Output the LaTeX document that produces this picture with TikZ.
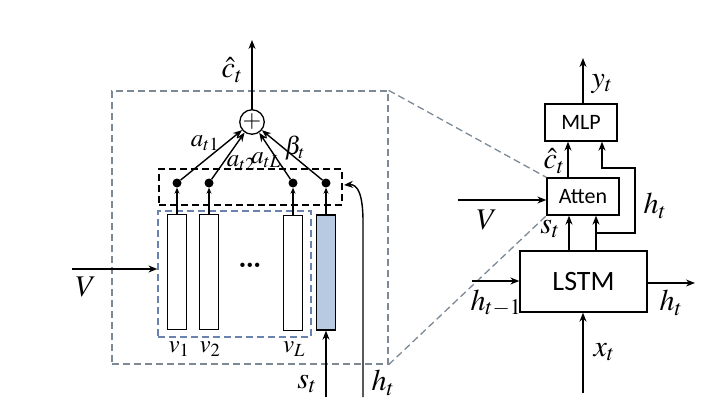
\documentclass[tikz,border=0pt]{standalone}
\usepackage{mathptmx}
\usepackage{fontspec}
\setsansfont{Carlito}
\usetikzlibrary{arrows.meta}
\definecolor{greydash}{RGB}{125,138,150}
\definecolor{bluedash}{RGB}{105,130,175}
\definecolor{barblue}{RGB}{183,202,226}
\tikzset{
  ln/.style={line width=1.4pt},
  arr/.style={ln,-{Stealth[length=9pt,width=7pt]}},
  sarr/.style={line width=1.1pt,-{Stealth[length=6pt,width=5pt]}},
  bar/.style={draw,line width=1.3pt,minimum width=19pt,minimum height=115pt,inner sep=0pt},
  dot/.style={circle,fill=black,minimum size=9pt,inner sep=0pt},
  blk/.style={draw,line width=1.3pt,inner sep=0pt,font=\sffamily},
  lbl/.style={inner sep=0pt,font=\fontsize{30}{32}\selectfont},
  slbl/.style={inner sep=0pt,font=\fontsize{25}{27}\selectfont},
  dbox/.style={line width=1.3pt,dash pattern=on 7pt off 4pt,inner sep=0pt},
}
\begin{document}
\begin{tikzpicture}[x=1pt,y=-1pt]
\useasboundingbox (0,0) rectangle (720,420);
% left part boxes
\node[dbox,draw=greydash,minimum width=276pt,minimum height=273pt] (outer) at (250,227.5) {};
\node[dbox,draw=bluedash,line width=1.2pt,minimum width=153pt,minimum height=126pt] (inner) at (234.5,274) {};
\node[dbox,draw=black,minimum width=183pt,minimum height=36pt] (sel) at (250.5,187) {};
% bars
\node[bar,fill=white] (b1) at (177,272) {};
\node[bar,fill=white] (b2) at (209,272) {};
\node[bar,fill=white] (b3) at (293,273) {};
\node[bar,fill=barblue] (b4) at (326,272.5) {};
\node[font=\bfseries\fontsize{30}{30}\selectfont] (ell) at (250,265) {\dots};
% dots
\node[dot] (d1) at (177,183) {};
\node[dot] (d2) at (209,183) {};
\node[dot] (d3) at (293,183) {};
\node[dot] (d4) at (326,183) {};
\foreach \i in {1,2,3,4} {\draw[sarr] (b\i.north) -- (d\i.south);}
% plus
\node[circle,draw,line width=1.3pt,minimum size=24pt,inner sep=0pt,font=\fontsize{24}{24}\selectfont] (plus) at (252,122) {$+$};
\foreach \i in {1,2,3,4} {\draw[arr] (d\i) -- (plus);}
\coordinate (ctop) at (252,40);
\draw[arr] (plus.north) -- (ctop);
% labels left
\node[lbl] (lc) at (232,70) {$\hat{c}_t$};
\node[slbl] (la1) at (205,143) {$a_{t1}$};
\node[slbl] (la2) at (241,163) {$a_{t2}$};
\node[slbl] (laL) at (266,160) {$a_{tL}$};
\node[slbl] (lb) at (295,148) {$\beta_t$};
\node[slbl] (lv1) at (179,349) {$v_1$};
\node[slbl] (lv2) at (210,349) {$v_2$};
\node[slbl] (lvL) at (294,349) {$v_L$};
% V input
\coordinate (vin) at (72,269);
\draw[arr] (vin) -- (inner.west |- vin);
\node[lbl] (lV) at (86,287) {$V$};
% s_t
\coordinate (sin) at (326,397);
\draw[arr] (sin) -- (b4.south);
\node[lbl] (ls) at (307,384) {$s_t$};
% h_t
\coordinate (hin) at (363,397);
\coordinate (hend) at (344,185);
\draw[arr] (hin) -- (363,222) .. controls (363,195) and (358,184) .. (hend);
\node[lbl] (lh) at (383,383) {$h_t$};
% right part
\node[blk,minimum width=72pt,minimum height=37pt,font=\sffamily\fontsize{22}{23}\selectfont] (mlp) at (581,122.5) {MLP};
\node[blk,minimum width=72pt,minimum height=37pt,font=\sffamily\fontsize{22}{23}\selectfont] (att) at (583,196.5) {Atten};
\node[blk,minimum width=127pt,minimum height=61pt,font=\sffamily\fontsize{28}{29}\selectfont] (lstm) at (583.5,281.5) {LSTM};
% dashed zoom lines
\draw[greydash,line width=1.3pt,dash pattern=on 7pt off 4pt] (outer.north east) -- (att.north west);
\draw[greydash,line width=1.3pt,dash pattern=on 7pt off 4pt] (outer.south east) -- (att.south west);
% y_t
\coordinate (ytop) at (583,58);
\draw[arr] (mlp.north -| ytop) -- (ytop);
\node[lbl] (ly) at (602,84) {$y_t$};
% atten -> mlp
\draw[arr] (att.north -| 568,0) -- (mlp.south -| 568,0);
\node[lbl] (lc2) at (554,161) {$\hat{c}_t$};
% lstm -> atten
\draw[arr] (lstm.north -| 569,0) -- (att.south -| 569,0);
\draw[arr] (lstm.north -| 596,0) -- (att.south -| 596,0);
\node[lbl] (ls2) at (550,229) {$s_t$};
% feedback h_t to MLP
\coordinate (fb) at (596,233);
\draw[arr] (fb) -- (635,233) -- (635,168) -- (602,168) -- (mlp.south -| 602,0);
\node[lbl] (lh2) at (655,206) {$h_t$};
% V into atten
\coordinate (vin2) at (458,200);
\draw[arr] (vin2) -- (att.west |- vin2);
\node[lbl] (lV2) at (487,220) {$V$};
% h_{t-1}
\coordinate (hprev) at (472,281);
\draw[arr] (hprev) -- (lstm.west |- hprev);
\node[lbl] (lhp) at (496,303) {$h_{t-1}$};
% h_t out
\coordinate (hout) at (695,283);
\draw[arr] (lstm.east |- hout) -- (hout);
\node[lbl] (lho) at (671,303) {$h_t$};
% x_t
\coordinate (xin) at (583,393);
\draw[arr] (xin) -- (lstm.south -| xin);
\node[lbl] (lx) at (604,352) {$x_t$};
\end{tikzpicture}
\end{document}
